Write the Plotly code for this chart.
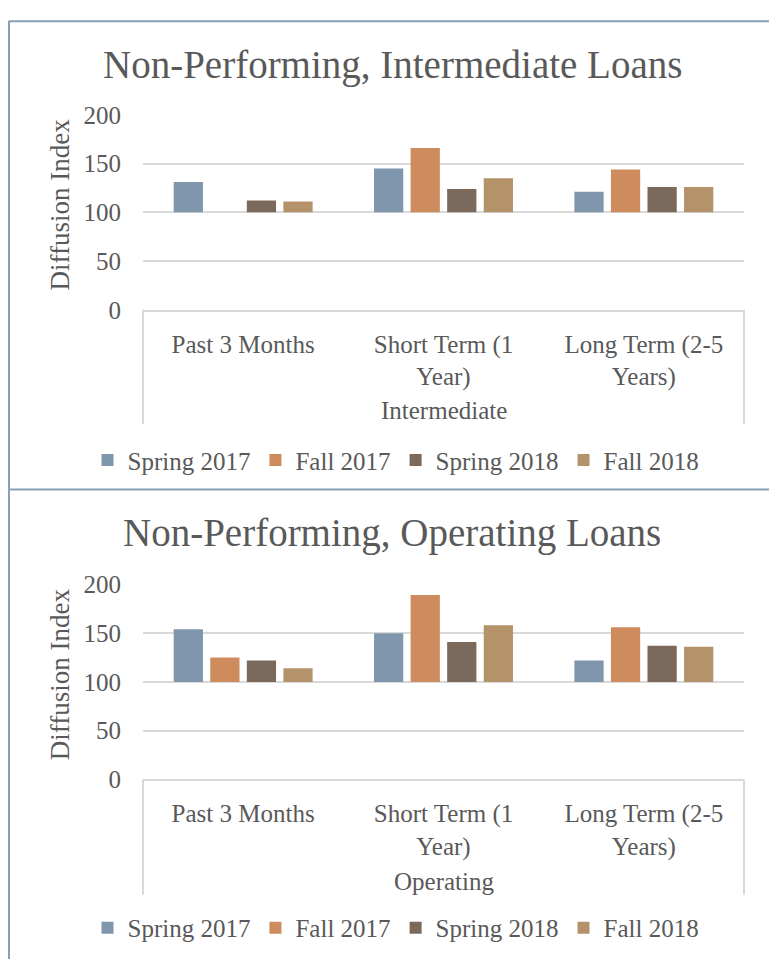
import plotly.graph_objects as go

categories = ["Past 3 Months", "Short Term (1 Year)", "Long Term (2-5 Years)"]
tick_labels = ["Past 3 Months", "Short Term (1<br>Year)", "Long Term (2-5<br>Years)"]
series_names = ["Spring 2017", "Fall 2017", "Spring 2018", "Fall 2018"]
colors = ["#7F96AD", "#CD8B5E", "#7B695C", "#B4926A"]

# Intermediate loans (diffusion index)
inter_spring2017 = [131, 145, 121]
inter_fall2017 = [None, 166, 144]
inter_spring2018 = [112, 124, 126]
inter_fall2018 = [111, 135, 126]

# Operating loans (diffusion index)
oper_spring2017 = [154, 150, 122]
oper_fall2017 = [125, 189, 156]
oper_spring2018 = [122, 141, 137]
oper_fall2018 = [114, 158, 136]

BASE = 100
panels = [
    ("Non-Performing, Intermediate Loans", "Intermediate",
     [inter_spring2017, inter_fall2017, inter_spring2018, inter_fall2018]),
    ("Non-Performing, Operating Loans", "Operating",
     [oper_spring2017, oper_fall2017, oper_spring2018, oper_fall2018]),
]

W, H = 769, 973
FONT = "Liberation Serif"
TXT = "#595959"
GRID = "#D9D9D9"
BORDER = "#8A9FB5"

def px_x(p):
    return p / W

def px_y(p):
    return 1 - p / H

plot_x = (143, 744)
plot_y = [(104.7, 305.3), (587.7, 788.3)]
title_y = [53, 535]
group_y = [409, 893]
legend_y = [460, 941]
divider_bottom = [423, 907]

fig = go.Figure()
annotations = []
shapes = []

for i, (title, group, data) in enumerate(panels):
    xa = "x" if i == 0 else "x2"
    ya = "y" if i == 0 else "y2"
    for name, color, vals in zip(series_names, colors, data):
        fig.add_trace(go.Bar(
            x=categories,
            y=[None if v is None else v - BASE for v in vals],
            base=BASE,
            name=name,
            marker=dict(color=color, line=dict(width=0)),
            xaxis=xa, yaxis=ya,
            legend="legend" if i == 0 else "legend2",
        ))
    top, bot = plot_y[i]
    xkey = "xaxis" if i == 0 else "xaxis2"
    ykey = "yaxis" if i == 0 else "yaxis2"
    fig.layout[xkey] = dict(
        domain=[px_x(plot_x[0]), px_x(plot_x[1])],
        anchor=ya,
        type="category",
        categoryarray=categories,
        tickvals=categories,
        ticktext=tick_labels,
        showline=True, linecolor=GRID, linewidth=2,
        ticks="outside", ticklen=11, tickcolor="rgba(0,0,0,0)",
        showgrid=False, zeroline=False,
        tickfont=dict(family=FONT, size=25, color=TXT),
    )
    fig.layout[ykey] = dict(
        domain=[px_y(bot), px_y(top)],
        anchor=xa,
        range=[0, 200],
        dtick=50,
        showgrid=True, gridcolor=GRID, gridwidth=2,
        zeroline=False, showline=False,
        ticks="outside", ticklen=16, tickcolor="rgba(0,0,0,0)",
        tickfont=dict(family=FONT, size=25, color=TXT),
    )
    annotations.append(dict(
        text=title, x=px_x(392), y=px_y(title_y[i]), xref="paper", yref="paper",
        xanchor="center", yanchor="middle", showarrow=False,
        font=dict(family=FONT, size=39, color=TXT)))
    annotations.append(dict(
        text="Diffusion Index", x=px_x(60), y=px_y((top + bot) / 2 - 8),
        xref="paper", yref="paper", textangle=-90,
        xanchor="center", yanchor="middle", showarrow=False,
        font=dict(family=FONT, size=27, color=TXT)))
    annotations.append(dict(
        text=group, x=px_x(443.5), y=px_y(group_y[i]), xref="paper", yref="paper",
        xanchor="center", yanchor="middle", showarrow=False,
        font=dict(family=FONT, size=25, color=TXT)))
    for xp in plot_x:
        shapes.append(dict(type="line", xref="paper", yref="paper",
                           x0=px_x(xp), x1=px_x(xp), y0=px_y(bot), y1=px_y(divider_bottom[i]),
                           line=dict(color=GRID, width=2)))
    fig.layout["legend" if i == 0 else "legend2"] = dict(
        orientation="h", x=px_x(396), xanchor="center",
        y=px_y(legend_y[i]), yanchor="middle",
        font=dict(family=FONT, size=25, color=TXT),
        bgcolor="rgba(0,0,0,0)", traceorder="normal",
        itemclick=False, itemdoubleclick=False,
    )

shapes += [
    dict(type="line", xref="paper", yref="paper", x0=px_x(9), x1=1, y0=px_y(8.5), y1=px_y(8.5),
         line=dict(color=BORDER, width=2)),
    dict(type="line", xref="paper", yref="paper", x0=px_x(9), x1=1, y0=px_y(490), y1=px_y(490),
         line=dict(color=BORDER, width=2)),
    dict(type="line", xref="paper", yref="paper", x0=px_x(9), x1=px_x(9), y0=px_y(8), y1=0,
         line=dict(color=BORDER, width=2)),
]

fig.update_layout(
    width=W, height=H,
    margin=dict(l=0, r=0, t=0, b=0),
    paper_bgcolor="white", plot_bgcolor="white",
    barmode="group", bargap=0.27, bargroupgap=0.2,
    annotations=annotations, shapes=shapes,
    font=dict(family=FONT, color=TXT),
)

# pin the figure to the window's top-left corner so the page does not scroll
pin = (
    "document.body.style.margin='0';"
    "document.body.style.overflow='hidden';"
    "var gd=document.getElementById('{plot_id}');"
    "gd.style.position='fixed';gd.style.top='0px';gd.style.left='0px';"
)

fig.write_html("out.html", post_script=pin, config={"displayModeBar": False})
